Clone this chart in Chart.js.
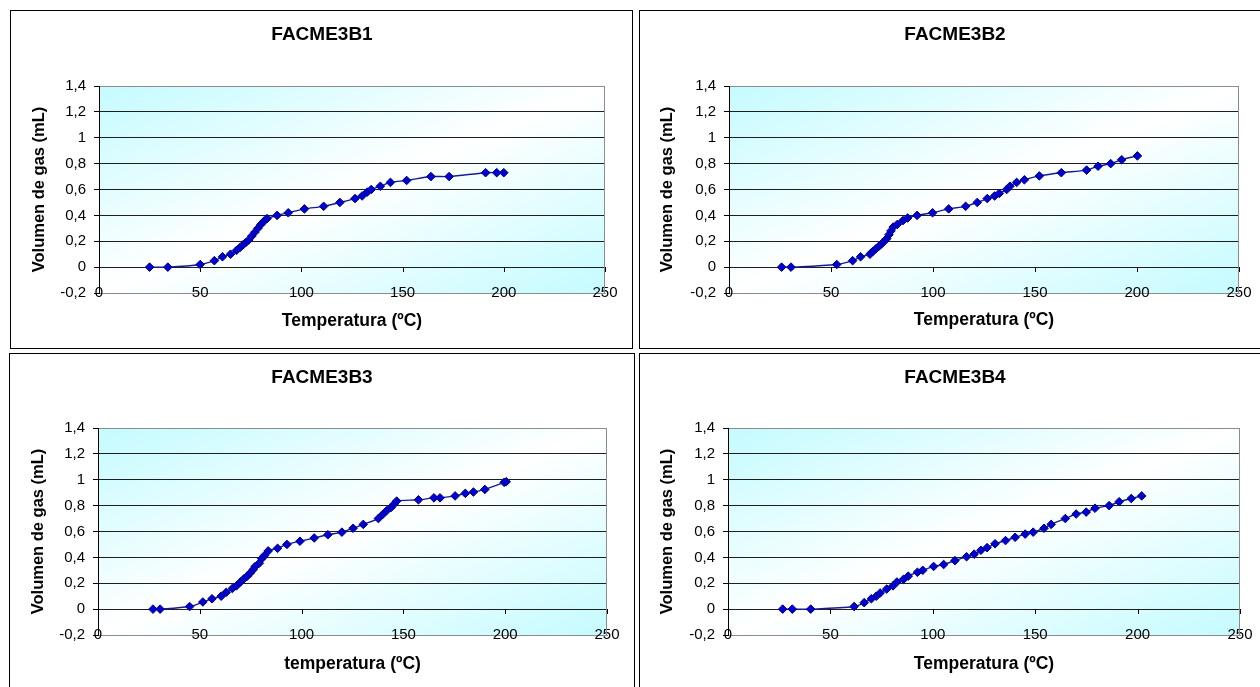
<!DOCTYPE html>
<html>
<head>
<meta charset="utf-8">
<script src="https://cdn.jsdelivr.net/npm/chart.js@4"></script>
<style>
  html, body { margin: 0; padding: 0; background: #fff; width: 1260px; height: 687px; overflow: hidden; }
  canvas { position: absolute; }
  .frame { position: absolute; box-sizing: border-box; border: 1px solid #000; pointer-events: none; }
</style>
</head>
<body>
<script>
// Gas volume released vs. temperature for the four FACME3 samples
const tempB1 = [25, 34, 50, 57, 61, 65, 68, 69.5, 71, 72.5, 74, 75.5, 77, 78.5, 80, 81.5, 83, 88, 93.5, 101.5, 111, 119, 126.5, 130, 132.5, 134.5, 139, 144, 152, 164, 173, 191, 196.5, 200];
const volB1  = [0, 0, 0.02, 0.05, 0.08, 0.10, 0.13, 0.15, 0.17, 0.19, 0.21, 0.24, 0.27, 0.30, 0.33, 0.355, 0.375, 0.40, 0.42, 0.45, 0.47, 0.50, 0.53, 0.55, 0.58, 0.60, 0.625, 0.655, 0.67, 0.70, 0.70, 0.73, 0.73, 0.73];

const tempB2 = [25.8, 30.4, 52.8, 60.6, 64.5, 69.1, 70.4, 71.9, 73.4, 74.8, 76.1, 77.3, 78.4, 79.4, 80.5, 82.5, 85.3, 87.6, 92.2, 99.8, 107.7, 116, 121.7, 126.6, 130.2, 132.5, 136.1, 137.7, 141, 144.8, 152.1, 162.9, 175.3, 180.9, 187.1, 192.5, 200.2];
const volB2  = [0, 0, 0.02, 0.05, 0.08, 0.10, 0.12, 0.14, 0.16, 0.18, 0.20, 0.22, 0.25, 0.28, 0.31, 0.33, 0.36, 0.38, 0.40, 0.42, 0.45, 0.47, 0.50, 0.53, 0.55, 0.57, 0.60, 0.625, 0.655, 0.675, 0.705, 0.73, 0.75, 0.78, 0.80, 0.83, 0.86];

const tempB3 = [27, 30.5, 45, 51.5, 56, 60.5, 63, 66, 68, 70, 71.7, 73.3, 74.8, 76.2, 77.2, 79.2, 80.4, 81.8, 83.6, 88.2, 92.8, 99.2, 106.2, 112.9, 119.8, 125.3, 130.3, 137.7, 139.7, 141.7, 143.9, 145.3, 146.7, 157.4, 165, 168, 175.4, 180.4, 184.4, 190, 199.5, 200.5];
const volB3  = [0, 0, 0.02, 0.055, 0.08, 0.10, 0.13, 0.16, 0.18, 0.21, 0.235, 0.255, 0.28, 0.305, 0.33, 0.355, 0.39, 0.415, 0.45, 0.47, 0.50, 0.525, 0.55, 0.575, 0.595, 0.625, 0.655, 0.70, 0.73, 0.76, 0.785, 0.81, 0.835, 0.845, 0.86, 0.86, 0.875, 0.895, 0.905, 0.925, 0.98, 0.985];

const tempB4 = [26.7, 31.4, 40.4, 61.6, 66.5, 70, 72.4, 74.3, 77.5, 80.6, 82.5, 85.7, 88, 92.5, 95.1, 100.4, 105.3, 110.8, 116.5, 120.2, 123.5, 126.5, 130.4, 135.5, 140.2, 145.1, 149, 154.3, 157.8, 164.7, 170, 174.9, 179.2, 186.1, 191, 196.9, 202];
const volB4  = [0, 0, 0, 0.02, 0.05, 0.08, 0.10, 0.125, 0.155, 0.18, 0.21, 0.23, 0.255, 0.285, 0.30, 0.33, 0.345, 0.375, 0.405, 0.425, 0.455, 0.475, 0.505, 0.53, 0.555, 0.58, 0.595, 0.625, 0.655, 0.70, 0.735, 0.75, 0.78, 0.80, 0.83, 0.855, 0.875];

const xTickValues = [0, 50, 100, 150, 200, 250];
const yTickValues = [-0.2, 0, 0.2, 0.4, 0.6, 0.8, 1, 1.2, 1.4];

const chartTitles = ['FACME3B1', 'FACME3B2', 'FACME3B3', 'FACME3B4'];
const xTitles = ['Temperatura (ºC)', 'Temperatura (ºC)', 'temperatura (ºC)', 'Temperatura (ºC)'];
const yTitle = 'Volumen de gas (mL)';

const temps = [tempB1, tempB2, tempB3, tempB4];
const vols = [volB1, volB2, volB3, volB4];

// Page placement of each panel: canvas box, frame box and inner plot box (canvas px)
const panels = [
  { cx: 10,  cy: 11,  W: 624, H: 339, frame: [10, 10, 623, 339],  L: 89, R: 595, T: 75, B: 282, titleY: 24,   yTitleX: 29,   xTitleY: 310 },
  { cx: 639, cy: 11,  W: 632, H: 339, frame: [639, 10, 640, 339], L: 90, R: 600, T: 75, B: 282, titleY: 23.5, yTitleX: 28.5, xTitleY: 309.5 },
  { cx: 9,   cy: 353, W: 626, H: 339, frame: [9, 353, 626, 340],  L: 89, R: 598, T: 75, B: 282, titleY: 25,   yTitleX: 29,   xTitleY: 311 },
  { cx: 639, cy: 353, W: 632, H: 339, frame: [639, 353, 640, 340], L: 89, R: 601, T: 75, B: 282, titleY: 25,   yTitleX: 28.6, xTitleY: 311 }
];

Chart.defaults.font.family = "'Liberation Sans', Arial, sans-serif";
Chart.defaults.color = '#000';

const fmtTick = v => String(Math.round(v * 10) / 10).replace('.', ',');

// Diagonal cyan-white-cyan fill of the plot area, right edge and x tick marks on the zero line
const plotDecor = {
  id: 'plotDecor',
  beforeDraw(chart) {
    const { ctx, chartArea: a } = chart;
    ctx.save();
    ctx.translate(a.left, a.top);
    ctx.scale(a.right - a.left, a.bottom - a.top);
    const g = ctx.createLinearGradient(0, 0, 1, 1);
    g.addColorStop(0, '#c4fbff');
    g.addColorStop(0.5, '#ffffff');
    g.addColorStop(1, '#c4fbff');
    ctx.fillStyle = g;
    ctx.fillRect(0, 0, 1, 1);
    ctx.restore();
  },
  beforeDatasetsDraw(chart) {
    const { ctx, chartArea: a, scales } = chart;
    ctx.save();
    ctx.lineWidth = 1;
    ctx.strokeStyle = '#8c8c8c';
    const xr = Math.round(a.right) - 0.5;
    ctx.beginPath();
    ctx.moveTo(xr, a.top);
    ctx.lineTo(xr, a.bottom);
    ctx.stroke();
    ctx.strokeStyle = '#000';
    const y0 = Math.round(scales.y.getPixelForValue(0));
    ctx.beginPath();
    xTickValues.forEach(v => {
      const px = Math.round(scales.x.getPixelForValue(v)) + 0.5;
      ctx.moveTo(px, y0);
      ctx.lineTo(px, y0 + 5);
    });
    ctx.stroke();
    ctx.restore();
  }
};

panels.forEach((p, i) => {
  const canvas = document.createElement('canvas');
  canvas.width = p.W;
  canvas.height = p.H;
  canvas.style.left = p.cx + 'px';
  canvas.style.top = p.cy + 'px';
  canvas.style.width = p.W + 'px';
  canvas.style.height = p.H + 'px';
  document.body.appendChild(canvas);

  const frame = document.createElement('div');
  frame.className = 'frame';
  frame.style.left = p.frame[0] + 'px';
  frame.style.top = p.frame[1] + 'px';
  frame.style.width = p.frame[2] + 'px';
  frame.style.height = p.frame[3] + 'px';
  document.body.appendChild(frame);

  const titleSize = 19, xTitleSize = 17.5, yTitleSize = 16.5;

  new Chart(canvas, {
    type: 'scatter',
    data: {
      datasets: [{
        data: temps[i].map((t, k) => ({ x: t, y: vols[i][k] })),
        showLine: true,
        borderColor: '#1a1a90',
        borderWidth: 1.4,
        tension: 0.3,
        pointStyle: 'rectRot',
        pointRadius: 4.3,
        pointBackgroundColor: '#0000d0',
        pointBorderColor: '#000085',
        pointBorderWidth: 1
      }]
    },
    options: {
      responsive: false,
      animation: false,
      devicePixelRatio: 1,
      layout: { padding: 0 },
      plugins: {
        legend: { display: false },
        tooltip: { enabled: false },
        title: {
          display: true,
          text: chartTitles[i],
          color: '#000',
          font: { size: titleSize, weight: 'bold', lineHeight: 1.2 },
          padding: { top: p.titleY - titleSize * 0.6, bottom: p.T - p.titleY - titleSize * 0.6 }
        }
      },
      scales: {
        x: {
          type: 'linear',
          position: 'bottom',
          min: 0,
          max: 250,
          afterBuildTicks: s => { s.ticks = xTickValues.map(v => ({ value: v })); },
          afterFit: s => { s.height = p.H - p.B; },
          grid: { display: false, drawTicks: false, tickLength: 0 },
          border: { display: true, color: '#8c8c8c', width: 1 },
          ticks: { mirror: true, padding: -9, color: '#000', font: { size: 15, lineHeight: 1.2 }, maxRotation: 0, autoSkip: false },
          title: {
            display: true,
            text: xTitles[i],
            color: '#000',
            font: { size: xTitleSize, weight: 'bold', lineHeight: 1.2 },
            padding: { top: 0, bottom: p.H - p.xTitleY - xTitleSize * 0.6 }
          }
        },
        y: {
          type: 'linear',
          position: 'left',
          min: -0.2,
          max: 1.4,
          afterBuildTicks: s => { s.ticks = yTickValues.map(v => ({ value: v })); },
          afterFit: s => { s.width = p.L; },
          grid: {
            color: c => {
              const v = c.tick ? c.tick.value : 0;
              if (Math.abs(v - 1.4) < 1e-6 || Math.abs(v + 0.2) < 1e-6) return '#8c8c8c';
              return '#1e1e1e';
            },
            tickColor: '#000',
            tickLength: 5,
            drawTicks: true,
            lineWidth: 1
          },
          border: { display: true, color: '#000', width: 1 },
          ticks: { padding: 8, color: '#000', font: { size: 15, lineHeight: 1.2 }, callback: v => fmtTick(v) },
          title: {
            display: true,
            text: yTitle,
            color: '#000',
            font: { size: yTitleSize, weight: 'bold', lineHeight: 1.2 },
            padding: { top: p.yTitleX - yTitleSize * 0.6, bottom: 0 }
          }
        },
        // empty right-hand margin so the chart title stays centred on the whole panel
        yMargin: {
          type: 'linear',
          position: 'right',
          display: true,
          afterFit: s => { s.width = p.W - p.R; },
          grid: { display: false, drawTicks: false },
          border: { display: false },
          ticks: { display: false },
          title: { display: false }
        }
      }
    },
    plugins: [plotDecor]
  });
});
</script>
</body>
</html>
